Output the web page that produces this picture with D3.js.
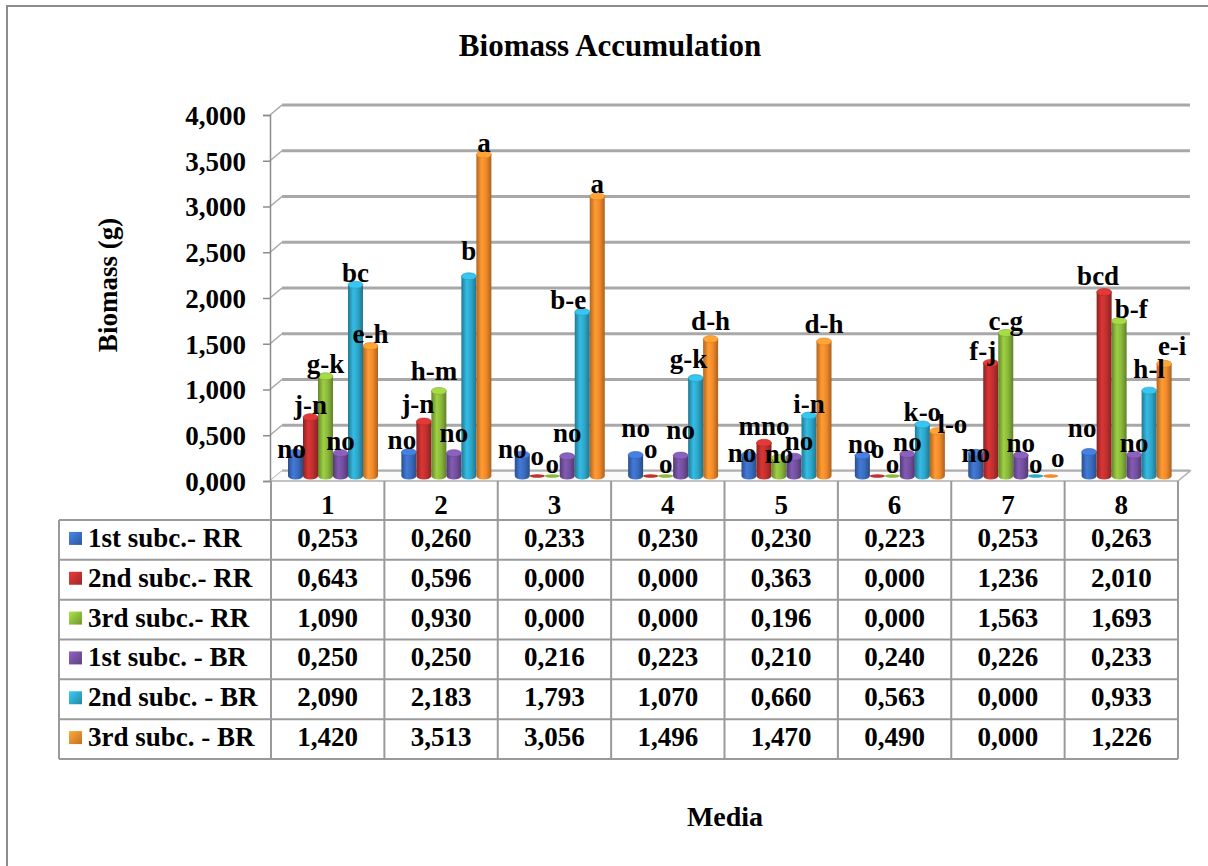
<!DOCTYPE html>
<html>
<head>
<meta charset="utf-8">
<script src="https://cdn.jsdelivr.net/npm/d3@7"></script>
<style>
  html, body { margin: 0; padding: 0; background: #fff; }
  #chart text { font-family: 'Liberation Serif', 'DejaVu Serif', serif !important; font-weight: 700; fill: #000; }
</style>
</head>
<body>
<svg id="chart" width="1208" height="866"></svg>
<script>
// ---- data ----
const categories = ["1", "2", "3", "4", "5", "6", "7", "8"];
const seriesNames = ["1st subc.- RR", "2nd subc.- RR", "3rd subc.- RR", "1st subc. - BR", "2nd subc. - BR", "3rd subc. - BR"];

const rr1 = [0.253, 0.260, 0.233, 0.230, 0.230, 0.223, 0.253, 0.263];
const rr2 = [0.643, 0.596, 0.000, 0.000, 0.363, 0.000, 1.236, 2.010];
const rr3 = [1.090, 0.930, 0.000, 0.000, 0.196, 0.000, 1.563, 1.693];
const br1 = [0.250, 0.250, 0.216, 0.223, 0.210, 0.240, 0.226, 0.233];
const br2 = [2.090, 2.183, 1.793, 1.070, 0.660, 0.563, 0.000, 0.933];
const br3 = [1.420, 3.513, 3.056, 1.496, 1.470, 0.490, 0.000, 1.226];

// significance letters above each bar
const rr1Letters = ["no", "no", "no", "no", "no", "no", "no", "no"];
const rr2Letters = ["j-n", "j-n", "o", "o", "mno", "o", "f-j", "bcd"];
const rr3Letters = ["g-k", "h-m", "o", "o", "no", "o", "c-g", "b-f"];
const br1Letters = ["no", "no", "no", "no", "no", "no", "no", "no"];
const br2Letters = ["bc", "b", "b-e", "g-k", "i-n", "k-o", "o", "h-l"];
const br3Letters = ["e-h", "a", "a", "d-h", "d-h", "l-o", "o", "e-i"];

const yTicks = [0, 0.5, 1, 1.5, 2, 2.5, 3, 3.5, 4];

const seriesValues = [rr1, rr2, rr3, br1, br2, br3];
const seriesLetters = [rr1Letters, rr2Letters, rr3Letters, br1Letters, br2Letters, br3Letters];

// ---- styling / layout ----
const colors = ["#3a6cbf", "#c0302f", "#8bb83b", "#74509f", "#2ea6c9", "#f28a2c"];
const fontFamily = "'Liberation Serif', 'DejaVu Serif', serif";
const fontSize = 27;
const fmt = v => d3.format(".3f")(v).replace(".", ",");

// hand-placed offsets [dx, dy] for letter labels that would otherwise collide,
// keyed "series-category"
const labelNudges = {
  "0-0": [-4, 8], "0-1": [-7, 0], "1-1": [-6, -5], "2-1": [-5, -8], "3-1": [0, -8], "4-1": [0, -13],
  "0-2": [-10, 6], "1-2": [0, -8], "3-2": [0, -11], "4-2": [-14, 0],
  "0-3": [0, -15], "1-3": [0, -15], "3-3": [0, -14], "4-3": [-7, -7], "5-3": [0, -6],
  "0-4": [-7, 10], "1-4": [0, -5], "2-4": [0, 8], "3-4": [5, -4], "5-4": [0, -5],
  "1-5": [0, -15], "5-5": [15, 5],
  "0-6": [0, 12], "1-6": [-8, 0], "5-6": [7, -6],
  "0-7": [-7, -12], "1-7": [-6, -4], "2-7": [12, 0], "4-7": [0, -10], "5-7": [8, -6]
};

const svg = d3.select("#chart").attr("font-family", fontFamily).attr("font-weight", "bold");
const defs = svg.append("defs");

// cylinder shading gradients
colors.forEach((c, i) => {
  const base = d3.color(c);
  const g = defs.append("linearGradient").attr("id", "cyl" + i)
    .attr("x1", "0%").attr("x2", "100%").attr("y1", "0%").attr("y2", "0%");
  g.append("stop").attr("offset", "0%").attr("stop-color", base.darker(0.9));
  g.append("stop").attr("offset", "35%").attr("stop-color", base.brighter(0.35));
  g.append("stop").attr("offset", "65%").attr("stop-color", base);
  g.append("stop").attr("offset", "100%").attr("stop-color", base.darker(1.0));
  const s = defs.append("linearGradient").attr("id", "sq" + i)
    .attr("x1", "0%").attr("x2", "100%").attr("y1", "0%").attr("y2", "100%");
  s.append("stop").attr("offset", "0%").attr("stop-color", base.brighter(0.6));
  s.append("stop").attr("offset", "100%").attr("stop-color", base.darker(0.6));
});

function txt(sel, size) {
  return sel.attr("font-family", fontFamily).attr("font-weight", "bold")
    .style("font-family", fontFamily).style("font-size", size + "px");
}

// ---- frame ----
svg.append("rect").attr("x", 7).attr("y", 6).attr("width", 1230).attr("height", 900)
  .attr("fill", "none").attr("stroke", "#8c8c8c").attr("stroke-width", 2);

// ---- geometry ----
const axisX = 270, plotRight = 1178;
const depthX = 12, depthY = -10;
const yFront = d3.scaleLinear().domain([0, 4]).range([481, 115]);
const yBack = d3.scaleLinear().domain([0, 4]).range([481 + depthY, 115 + depthY]);
const yMid = d3.scaleLinear().domain([0, 4]).range([481 + depthY / 2, 115 + depthY / 2]);

const xCat = d3.scaleBand().domain(categories).range([axisX + 1, plotRight]).paddingInner(0).paddingOuter(0);
const xSeries = d3.scaleBand().domain(d3.range(seriesNames.length)).range([17, 107]).padding(0);

// ---- walls: gridlines on back wall, diagonals on side wall ----
const wall = svg.append("g");
yTicks.forEach(t => {
  wall.append("line")
    .attr("x1", axisX + depthX).attr("x2", plotRight + depthX)
    .attr("y1", yBack(t)).attr("y2", yBack(t))
    .attr("stroke", "#a8a8a8").attr("stroke-width", 3);
  wall.append("line")
    .attr("x1", axisX).attr("x2", axisX + depthX)
    .attr("y1", yFront(t)).attr("y2", yBack(t))
    .attr("stroke", "#a8a8a8").attr("stroke-width", 1.5);
});
// floor outline
wall.append("path")
  .attr("d", `M${axisX},${yFront(0)} L${plotRight},${yFront(0)} L${plotRight + depthX},${yBack(0)} L${axisX + depthX},${yBack(0)}`)
  .attr("fill", "#fbfbfb").attr("stroke", "#b0b0b0").attr("stroke-width", 1.5);

// ---- y axis ----
const yAxis = d3.axisLeft(yFront).tickValues(yTicks).tickSize(7).tickPadding(17).tickFormat(fmt);
const yAxisG = svg.append("g").attr("transform", `translate(${axisX},0)`).call(yAxis)
  .attr("font-family", fontFamily).attr("font-size", null);
yAxisG.select(".domain").attr("stroke", "#8c8c8c").attr("stroke-width", 1.5);
yAxisG.selectAll(".tick line").attr("stroke", "#8c8c8c").attr("stroke-width", 1.5);
txt(yAxisG.selectAll(".tick text"), fontSize).attr("dy", "0.35em");

// ---- bars (cylinders) ----
const ry = 3.5;
const barW = xSeries.bandwidth();
const bars = svg.append("g");
const labels = svg.append("g");

categories.forEach((cat, ci) => {
  seriesValues.forEach((vals, si) => {
    const v = vals[ci];
    const x0 = xCat(cat) + xSeries(si);
    const cx = x0 + barW / 2;
    const yb = yMid(0);
    const yt = yMid(v);
    const col = d3.color(colors[si]);
    if (v > 0) {
      bars.append("path")
        .attr("d", `M${x0},${yt} L${x0},${yb} A${barW / 2},${ry} 0 0 0 ${x0 + barW},${yb} L${x0 + barW},${yt} Z`)
        .attr("fill", `url(#cyl${si})`);
      bars.append("ellipse")
        .attr("cx", cx).attr("cy", yt).attr("rx", barW / 2).attr("ry", ry)
        .attr("fill", col.brighter(0.5)).attr("stroke", col.darker(0.3)).attr("stroke-width", 0.6);
    } else {
      bars.append("ellipse")
        .attr("cx", cx).attr("cy", yb).attr("rx", barW / 2).attr("ry", 1.8)
        .attr("fill", col);
    }
    const [dx, dy] = labelNudges[`${si}-${ci}`] || [0, 0];
    txt(labels.append("text"), fontSize)
      .attr("x", cx + dx).attr("y", yt - 3 + dy)
      .attr("text-anchor", "middle")
      .text(seriesLetters[si][ci]);
  });
});

// ---- data table ----
const table = svg.append("g");
const tableLeft = 59;
const headerTop = 481, headerBottom = 520;
const rowH = (759 - headerBottom) / seriesNames.length;
const rowY = d3.scaleBand().domain(d3.range(seriesNames.length)).range([headerBottom, headerBottom + rowH * seriesNames.length]);
const gridStroke = "#9a9a9a";

// header cell lines
categories.forEach(cat => {
  table.append("line").attr("x1", xCat(cat)).attr("x2", xCat(cat))
    .attr("y1", headerTop).attr("y2", rowY.range()[1]).attr("stroke", gridStroke).attr("stroke-width", 2);
  txt(table.append("text"), fontSize)
    .attr("x", xCat(cat) + xCat.bandwidth() / 2).attr("y", 514)
    .attr("text-anchor", "middle")
    .text(cat);
});
table.append("line").attr("x1", plotRight).attr("x2", plotRight)
  .attr("y1", headerTop).attr("y2", rowY.range()[1]).attr("stroke", gridStroke).attr("stroke-width", 2);
table.append("line").attr("x1", tableLeft).attr("x2", tableLeft)
  .attr("y1", headerBottom).attr("y2", rowY.range()[1]).attr("stroke", gridStroke).attr("stroke-width", 2);

// horizontal row lines
d3.range(seriesNames.length + 1).forEach(i => {
  const y = headerBottom + i * rowH;
  table.append("line").attr("x1", tableLeft).attr("x2", plotRight)
    .attr("y1", y).attr("y2", y).attr("stroke", gridStroke).attr("stroke-width", 2);
});

// rows: legend key, series name, values
seriesNames.forEach((name, si) => {
  const y0 = rowY(si);
  const cy = y0 + rowH / 2;
  table.append("rect")
    .attr("x", 69).attr("y", cy - 8).attr("width", 13).attr("height", 13)
    .attr("fill", `url(#sq${si})`);
  txt(table.append("text"), fontSize)
    .attr("x", 88).attr("y", cy + 7)
    .text(name);
  categories.forEach((cat, ci) => {
    txt(table.append("text"), fontSize)
      .attr("x", xCat(cat) + xCat.bandwidth() / 2).attr("y", cy + 7)
      .attr("text-anchor", "middle")
      .text(fmt(seriesValues[si][ci]));
  });
});

// ---- titles ----
txt(svg.append("text"), 31).attr("x", 610).attr("y", 56).attr("text-anchor", "middle")
  .text("Biomass Accumulation");
txt(svg.append("text"), fontSize).attr("transform", "translate(117,285) rotate(-90)").attr("text-anchor", "middle")
  .text("Biomass (g)");
txt(svg.append("text"), 28).attr("x", 725).attr("y", 826).attr("text-anchor", "middle")
  .text("Media");
</script>
</body>
</html>
